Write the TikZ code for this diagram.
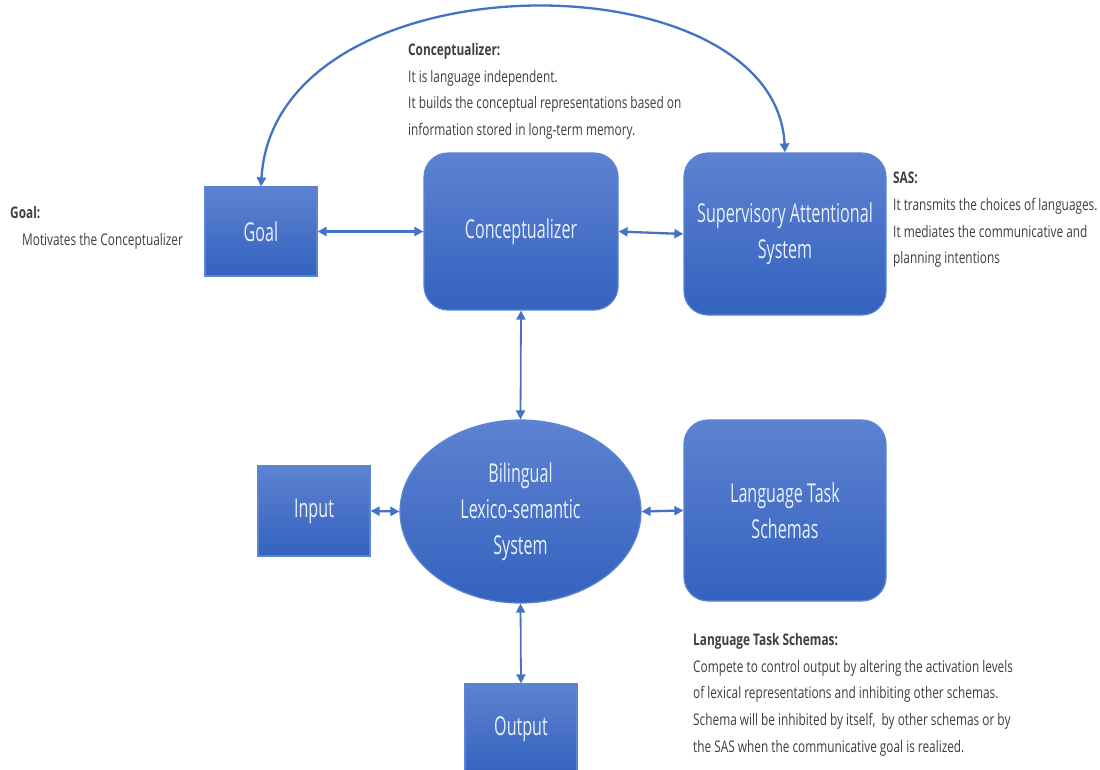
\documentclass[tikz,border=0pt]{standalone}
\usepackage{fontspec}
\setmainfont{Open Sans}
\newfontfamily\boxfont[FakeStretch=0.62]{Open Sans}
\newfontfamily\notefont[FakeStretch=0.74]{Open Sans}
\usetikzlibrary{arrows.meta,shapes.geometric}

\definecolor{boxtop}{HTML}{5D82D1}
\definecolor{boxbot}{HTML}{3462BE}
\definecolor{boxedge}{HTML}{5A84D4}
\definecolor{boxtext}{HTML}{EAF0FA}
\definecolor{linkblue}{HTML}{4472C4}
\definecolor{notegray}{HTML}{3F3F3F}

\tikzset{
  block/.style={draw=boxedge, line width=1.2pt, top color=boxtop, bottom color=boxbot,
    text=boxtext, font=\boxfont\fontsize{26}{36}\selectfont, align=center,
    inner sep=0pt},
  roundblock/.style={block, rounded corners=24pt},
  ovalblock/.style={block, ellipse},
  link/.style={draw=linkblue, line width=2.3pt,
    arrows={Triangle[length=9pt,width=9pt]-Triangle[length=9pt,width=9pt]}},
  thinlink/.style={link, line width=1.8pt},
  note/.style={anchor=north west, align=left, inner sep=0pt, text=notegray,
    font=\notefont\fontsize{16}{26.7}\selectfont},
}

\begin{document}
\begin{tikzpicture}[x=1pt,y=-1pt]
\clip (0,0) rectangle (1100,769);
\fill[white] (0,0) rectangle (1100,769);

% blocks
\node[block, minimum width=112pt, minimum height=89pt] (goal) at (261,231.5) {Goal};
\node[roundblock, minimum width=194pt, minimum height=157pt] (concept) at (521,231.5) {\raisebox{-3pt}{Conceptualizer}};
\node[roundblock, minimum width=202pt, minimum height=162pt] (sas) at (785,234) {Supervisory Attentional\\System};
\node[ovalblock, minimum width=241pt, minimum height=183pt] (lex) at (520.5,511.5) {Bilingual\\Lexico-semantic\\System};
\node[block, minimum width=112pt, minimum height=90pt] (input) at (314,511) {Input};
\node[roundblock, minimum width=202pt, minimum height=181pt] (lts) at (785,510.5) {Language Task\\Schemas};
\node[block, minimum width=112pt, minimum height=90pt] (output) at (521,729) {Output};

% connectors
\draw[link] (goal.east) -- (concept.west);
\draw[link] (concept.east) -- (sas.west);
\draw[thinlink] (concept.south) -- (lex.north);
\draw[link] (input.east) -- (lex.west);
\draw[link] (lex.east) -- (lts.west);
\draw[thinlink] (lex.south) -- (output.north);
\draw[link] (goal.north) .. controls (275,-46) and (775,-46) .. (sas.north);

% annotations
\node[note] (goalnote) at (10,206) {\textbf{Goal:}\\\hspace*{12pt}Motivates the Conceptualizer};
\node[note] (conceptnote) at (408,43) {\textbf{Conceptualizer:}\\It is language independent.\\It builds the conceptual representations based on\\information stored in long-term memory.};
\node[note] (sasnote) at (893,172) {\textbf{SAS:}\\It transmits the choices of languages.\\It mediates the communicative and\\planning intentions};
\node[note] (ltsnote) at (693,633) {\textbf{Language Task Schemas:}\\Compete to control output by altering the activation levels\\of lexical representations and inhibiting other schemas.\\Schema will be inhibited by itself,\ \ by other schemas or by\\the SAS when the communicative goal is realized.};
\end{tikzpicture}
\end{document}
